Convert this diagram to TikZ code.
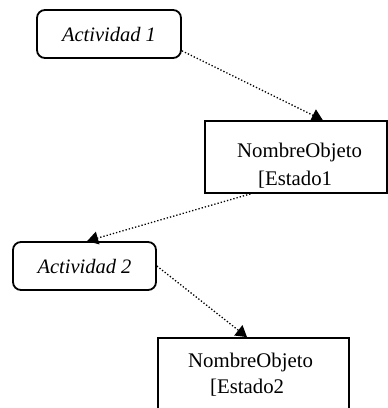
\documentclass[tikz,border=0pt]{standalone}
\usepackage{fontspec}
\setmainfont{Liberation Serif}
\usetikzlibrary{arrows.meta}

\tikzset{
  actbox/.style={draw, line width=1.8pt, rounded corners=8pt, minimum width=144pt,
    minimum height=48pt, inner sep=0pt, font=\fontsize{20.5}{24}\selectfont\itshape},
  objbox/.style={draw, line width=1.8pt, inner sep=0pt},
  objtext/.style={anchor=base west, inner sep=0pt, font=\fontsize{20.8}{24}\selectfont},
  flow/.style={line width=1.3pt, dash pattern=on 1.3pt off 2pt,
    -{Triangle[length=11pt,width=13pt]}}
}

\begin{document}
\begin{tikzpicture}[x=1pt,y=-1pt]
  \useasboundingbox[fill=white] (0,0) rectangle (388,408);

  % activities
  \node[actbox] (act1) at (109,34) {Actividad 1};
  \node[actbox, minimum width=143pt] (act2) at (84.5,266) {Actividad 2};

  % object states
  \node[objbox, minimum width=182pt, minimum height=72pt] (obj1) at (296,157) {};
  \node[objtext] (obj1name) at (237,157) {NombreObjeto};
  \node[objtext] (obj1state) at (258,185) {[Estado1};

  \node[objbox, minimum width=191pt, minimum height=72pt] (obj2) at (253.5,374) {};
  \node[objtext] (obj2name) at (188,367) {NombreObjeto};
  \node[objtext] (obj2state) at (210,393) {[Estado2};

  % object flows
  \draw[flow] (act1.-13) -- (obj1.54);
  \draw[flow] (obj1.219) -- (act2.84);
  \draw[flow] (act2.east) -- (obj2.100);
\end{tikzpicture}
\end{document}
